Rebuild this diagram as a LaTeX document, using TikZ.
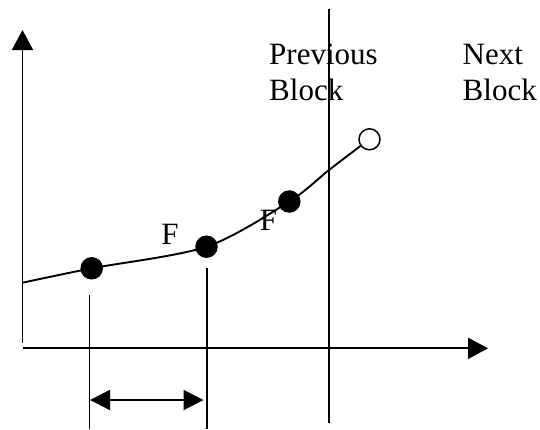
\documentclass[tikz,border=0pt]{standalone}
\usepackage{fontspec}
\setmainfont{Liberation Serif}
\usetikzlibrary{arrows.meta}
\begin{document}
\begin{tikzpicture}[x=1pt,y=-1pt,
  line/.style={line width=1.9pt},
  axis/.style={line width=1.9pt,-{Triangle[length=20pt,width=21pt]}},
  dim/.style={line width=1.9pt,{Triangle[length=20pt,width=20pt]}-{Triangle[length=20pt,width=20pt]}},
  dot/.style={circle,fill=black,inner sep=0pt,minimum size=22.5pt},
  odot/.style={circle,draw=black,fill=white,line width=1.5pt,inner sep=0pt,minimum size=21pt},
  ffont/.style={font=\fontsize{31}{36}\selectfont,inner sep=0pt},
  lbl/.style={font=\fontsize{31}{36}\selectfont,inner sep=0pt,anchor=base west,align=left}]
\useasboundingbox (0,0) rectangle (540,429);
% axes
\coordinate (O) at (22.5,348.3);
\coordinate (Ytop) at (22.5,30);
\coordinate (Ybot) at (22.5,343);
\coordinate (Xend) at (488,348.3);
\draw[axis] (Ybot) -- (Ytop);
\draw[axis] (O) -- (Xend);
% block boundary
\coordinate (Btop) at (329,9.3);
\coordinate (Bbot) at (329,423);
\draw[line] (Btop) -- (Bbot);
% curve
\draw[line] plot[smooth,tension=0.5] coordinates {(22.5,282.7) (91.7,268.3) (206.5,246.7) (289.3,201.5) (329,170) (367,141)};
\node[dot] (d1) at (91.7,268.3) {};
\node[dot] (d2) at (206.5,246.7) {};
\node[dot] (d3) at (289.3,201.5) {};
\node[odot] (d4) at (369.5,139.3) {};
% drop lines
\coordinate (v1t) at (89.5,295);
\coordinate (v1b) at (89.5,429);
\coordinate (v2t) at (206.7,268.3);
\coordinate (v2b) at (206.7,429);
\draw[line] (v1t) -- (v1b);
\draw[line] (v2t) -- (v2b);
% dimension arrow
\coordinate (a1) at (90,400);
\coordinate (a2) at (203.5,400);
\draw[dim] (a1) -- (a2);
% labels
\node[ffont] (f1) at (170,234) {F};
\node[ffont] (f2) at (268.5,220.5) {F};
\node[lbl] (prev) at (269,100) {Previous\\Block};
\node[lbl] (next) at (462.5,100) {Next\\Block};
\end{tikzpicture}
\end{document}
